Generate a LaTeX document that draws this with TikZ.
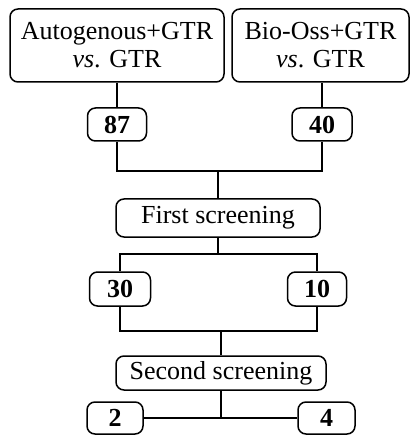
\documentclass[tikz,border=0pt]{standalone}
\usepackage{fontspec}
\setmainfont{Liberation Serif}
\begin{document}
\begin{tikzpicture}[x=1pt,y=-1pt,
  box/.style={draw,line width=1.5pt,rounded corners=8pt,inner sep=0pt,align=center,
    font=\fontsize{26}{28}\selectfont},
  num/.style={box,font=\fontsize{26}{28}\selectfont\bfseries},
  conn/.style={line width=1.2pt}]
\useasboundingbox (0,0) rectangle (410,435);
\node[box,minimum width=214pt,minimum height=73pt] (A) at (117,45.5) {Autogenous+GTR\\\textit{vs}. GTR};
\node[box,minimum width=177pt,minimum height=73pt] (B) at (320.5,45.5) {Bio-Oss+GTR\\\textit{vs}. GTR};
\node[num,minimum width=59pt,minimum height=33pt] (n87) at (117,124.5) {87};
\node[num,minimum width=60pt,minimum height=33pt] (n40) at (322,124.5) {40};
\node[box,minimum width=204pt,minimum height=38pt] (F) at (218,218) {First screening};
\node[num,minimum width=61pt,minimum height=34pt] (n30) at (120,289) {30};
\node[num,minimum width=59pt,minimum height=34pt] (n10) at (317,289) {10};
\node[box,minimum width=210pt,minimum height=34pt] (S) at (221,373) {Second screening};
\node[num,minimum width=56pt,minimum height=32pt] (n2) at (115,418) {2};
\node[num,minimum width=57pt,minimum height=32pt] (n4) at (326.5,418) {4};
\coordinate (j1) at (218,171);
\coordinate (j2) at (218,254);
\coordinate (j3) at (221,331);
\coordinate (j4) at (221,418);
\draw[conn] (A.south) -- (n87.north);
\draw[conn] (n40.north) -- (n40.north |- B.south);
\draw[conn] (n87.south) |- (j1) -| (n40.south);
\draw[conn] (j1) -- (F.north);
\draw[conn] (F.south) -- (j2);
\draw[conn] (n30.north) |- (j2) -| (n10.north);
\draw[conn] (n30.south) |- (j3) -| (n10.south);
\draw[conn] (j3) -- (S.north);
\draw[conn] (S.south) -- (j4);
\draw[conn] (n2.east) -- (n4.west);
\end{tikzpicture}
\end{document}
